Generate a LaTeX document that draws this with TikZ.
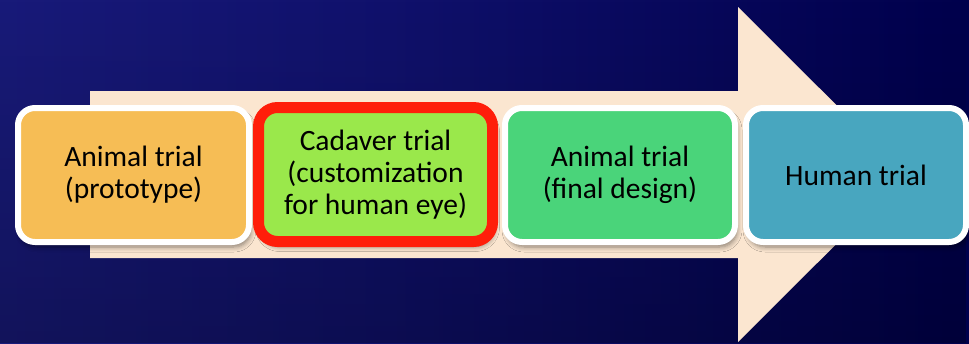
\documentclass[tikz,border=0pt]{standalone}
\usepackage{fontspec}
\setmainfont{Carlito}
\usetikzlibrary{shadows.blur,fadings}
\definecolor{bgA}{HTML}{23258A}
\definecolor{bgB}{HTML}{10116C}
\definecolor{bgC}{HTML}{00004C}
\definecolor{arrowc}{HTML}{FBE6D0}
\definecolor{orangec}{HTML}{F6BD55}
\definecolor{limec}{HTML}{9AE84B}
\definecolor{greenc}{HTML}{4AD47A}
\definecolor{tealc}{HTML}{48A6BF}
\definecolor{redc}{HTML}{FF1E0A}
\pgfdeclarehorizontalshading{bgshade}{100bp}{color(0bp)=(bgA); color(45bp)=(bgB); color(75bp)=(bgC); color(100bp)=(bgC)}
\tikzset{
  stage/.style={rectangle, rounded corners=17pt, align=center, text=black,
    font=\fontsize{29.5}{32}\selectfont, minimum height=134pt, inner sep=0pt,
    blur shadow={shadow xshift=2pt, shadow yshift=-5pt, shadow blur steps=6, shadow opacity=45, shadow blur radius=5pt}},
  whiteedge/.style={draw=white, line width=6pt},
  rededge/.style={draw=redc, line width=11pt}
}
\begin{document}
\begin{tikzpicture}[x=1pt,y=-1pt]
\useasboundingbox (0,0) rectangle (969,343);
\shade[shading=bgshade] (0,0) rectangle (969,343);
\fill[black, opacity=0.25, path fading=north] (0,0) rectangle (969,343);
% big arrow
\fill[arrowc] (90,91) -- (738,91) -- (738,7) -- (906,174.5) -- (738,342) -- (738,258) -- (90,258) -- cycle;
% stages
\node[stage, whiteedge, fill=orangec, minimum width=231pt] (s1) at (133.5,175) {Animal trial\\(prototype)};
\node[stage, rededge, fill=limec, minimum width=234pt, rounded corners=19pt] (s2) at (375.5,174.5) {Cadaver trial\\(customization\\for human eye)};
\node[stage, whiteedge, fill=greenc, minimum width=230pt] (s3) at (620,175) {Animal trial\\(final design)};
\node[stage, whiteedge, fill=tealc, minimum width=220pt] (s4) at (856,175) {Human trial};
\end{tikzpicture}
\end{document}
